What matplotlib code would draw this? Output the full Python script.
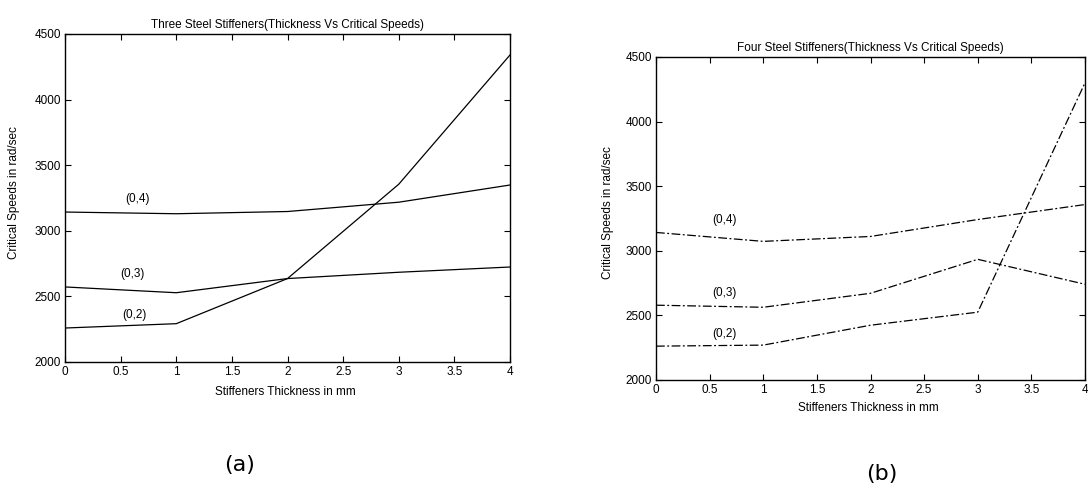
import matplotlib
matplotlib.use("Agg")
import matplotlib.pyplot as plt

# stiffener thickness (mm)
thickness = [0, 1, 2, 3, 4]

# (a) three steel stiffeners - critical speeds (rad/sec)
three_02 = [2259, 2292, 2636, 3355, 4340]
three_03 = [2572, 2528, 2636, 2684, 2724]
three_04 = [3143, 3130, 3147, 3218, 3349]

# (b) four steel stiffeners
four_02 = [2262, 2270, 2424, 2525, 4300]
four_03 = [2579, 2563, 2671, 2934, 2741]
four_04 = [3142, 3073, 3111, 3242, 3358]

mode_labels = ["(0,2)", "(0,3)", "(0,4)"]
label_pos_a = [(0.62, 2358), (0.61, 2671), (0.65, 3242)]
label_pos_b = [(0.64, 2356), (0.64, 2673), (0.64, 3238)]

xticks = [0, 0.5, 1, 1.5, 2, 2.5, 3, 3.5, 4]
xticklabels = ["0", "0.5", "1", "1.5", "2", "2.5", "3", "3.5", "4"]
yticks = [2000, 2500, 3000, 3500, 4000, 4500]

plt.rcParams['font.family'] = ['Liberation Sans', 'DejaVu Sans']

fig = plt.figure(figsize=(10.88, 4.88), dpi=100)
W, H = 1088.0, 488.0


def setup(ax, title):
    ax.set_xlim(0, 4)
    ax.set_ylim(2000, 4500)
    ax.set_xticks(xticks)
    ax.set_xticklabels(xticklabels)
    ax.set_yticks(yticks)
    ax.tick_params(direction='in', top=True, right=True, length=4,
                   width=0.8, labelsize=8.5, pad=3)
    for s in ax.spines.values():
        s.set_linewidth(1.0)
    ax.set_title(title, fontsize=8.5, pad=4)


# (a)
ax1 = fig.add_axes([65 / W, 1 - 362 / H, 445 / W, 328 / H])
setup(ax1, "Three Steel Stiffeners(Thickness Vs Critical Speeds)")
for ys in (three_02, three_03, three_04):
    ax1.plot(thickness, ys, color='black', lw=0.9)
for lab, (x, y) in zip(mode_labels, label_pos_a):
    ax1.text(x, y, lab, fontsize=8.5, ha='center', va='center')
fig.text(285 / W, 1 - 392 / H, "Stiffeners Thickness in mm", fontsize=8.5,
         ha='center', va='center')
fig.text(14 / W, 1 - 193 / H, "Critical Speeds in rad/sec", fontsize=8.5,
         ha='center', va='center', rotation=90)
fig.text(240 / W, 1 - 465 / H, "(a)", fontsize=16, ha='center', va='center',
         family='DejaVu Sans')

# (b)
ax2 = fig.add_axes([656 / W, 1 - 380 / H, 429 / W, 323 / H])
setup(ax2, "Four Steel Stiffeners(Thickness Vs Critical Speeds)")
for ys in (four_02, four_03, four_04):
    ax2.plot(thickness, ys, color='black', lw=0.9, dashes=(7, 2, 1.5, 2))
for lab, (x, y) in zip(mode_labels, label_pos_b):
    ax2.text(x, y, lab, fontsize=8.5, ha='center', va='center')
fig.text(868 / W, 1 - 408 / H, "Stiffeners Thickness in mm", fontsize=8.5,
         ha='center', va='center')
fig.text(608 / W, 1 - 213 / H, "Critical Speeds in rad/sec", fontsize=8.5,
         ha='center', va='center', rotation=90)
fig.text(882 / W, 1 - 474 / H, "(b)", fontsize=16, ha='center', va='center',
         family='DejaVu Sans')

fig.savefig("out.png", dpi=100)
